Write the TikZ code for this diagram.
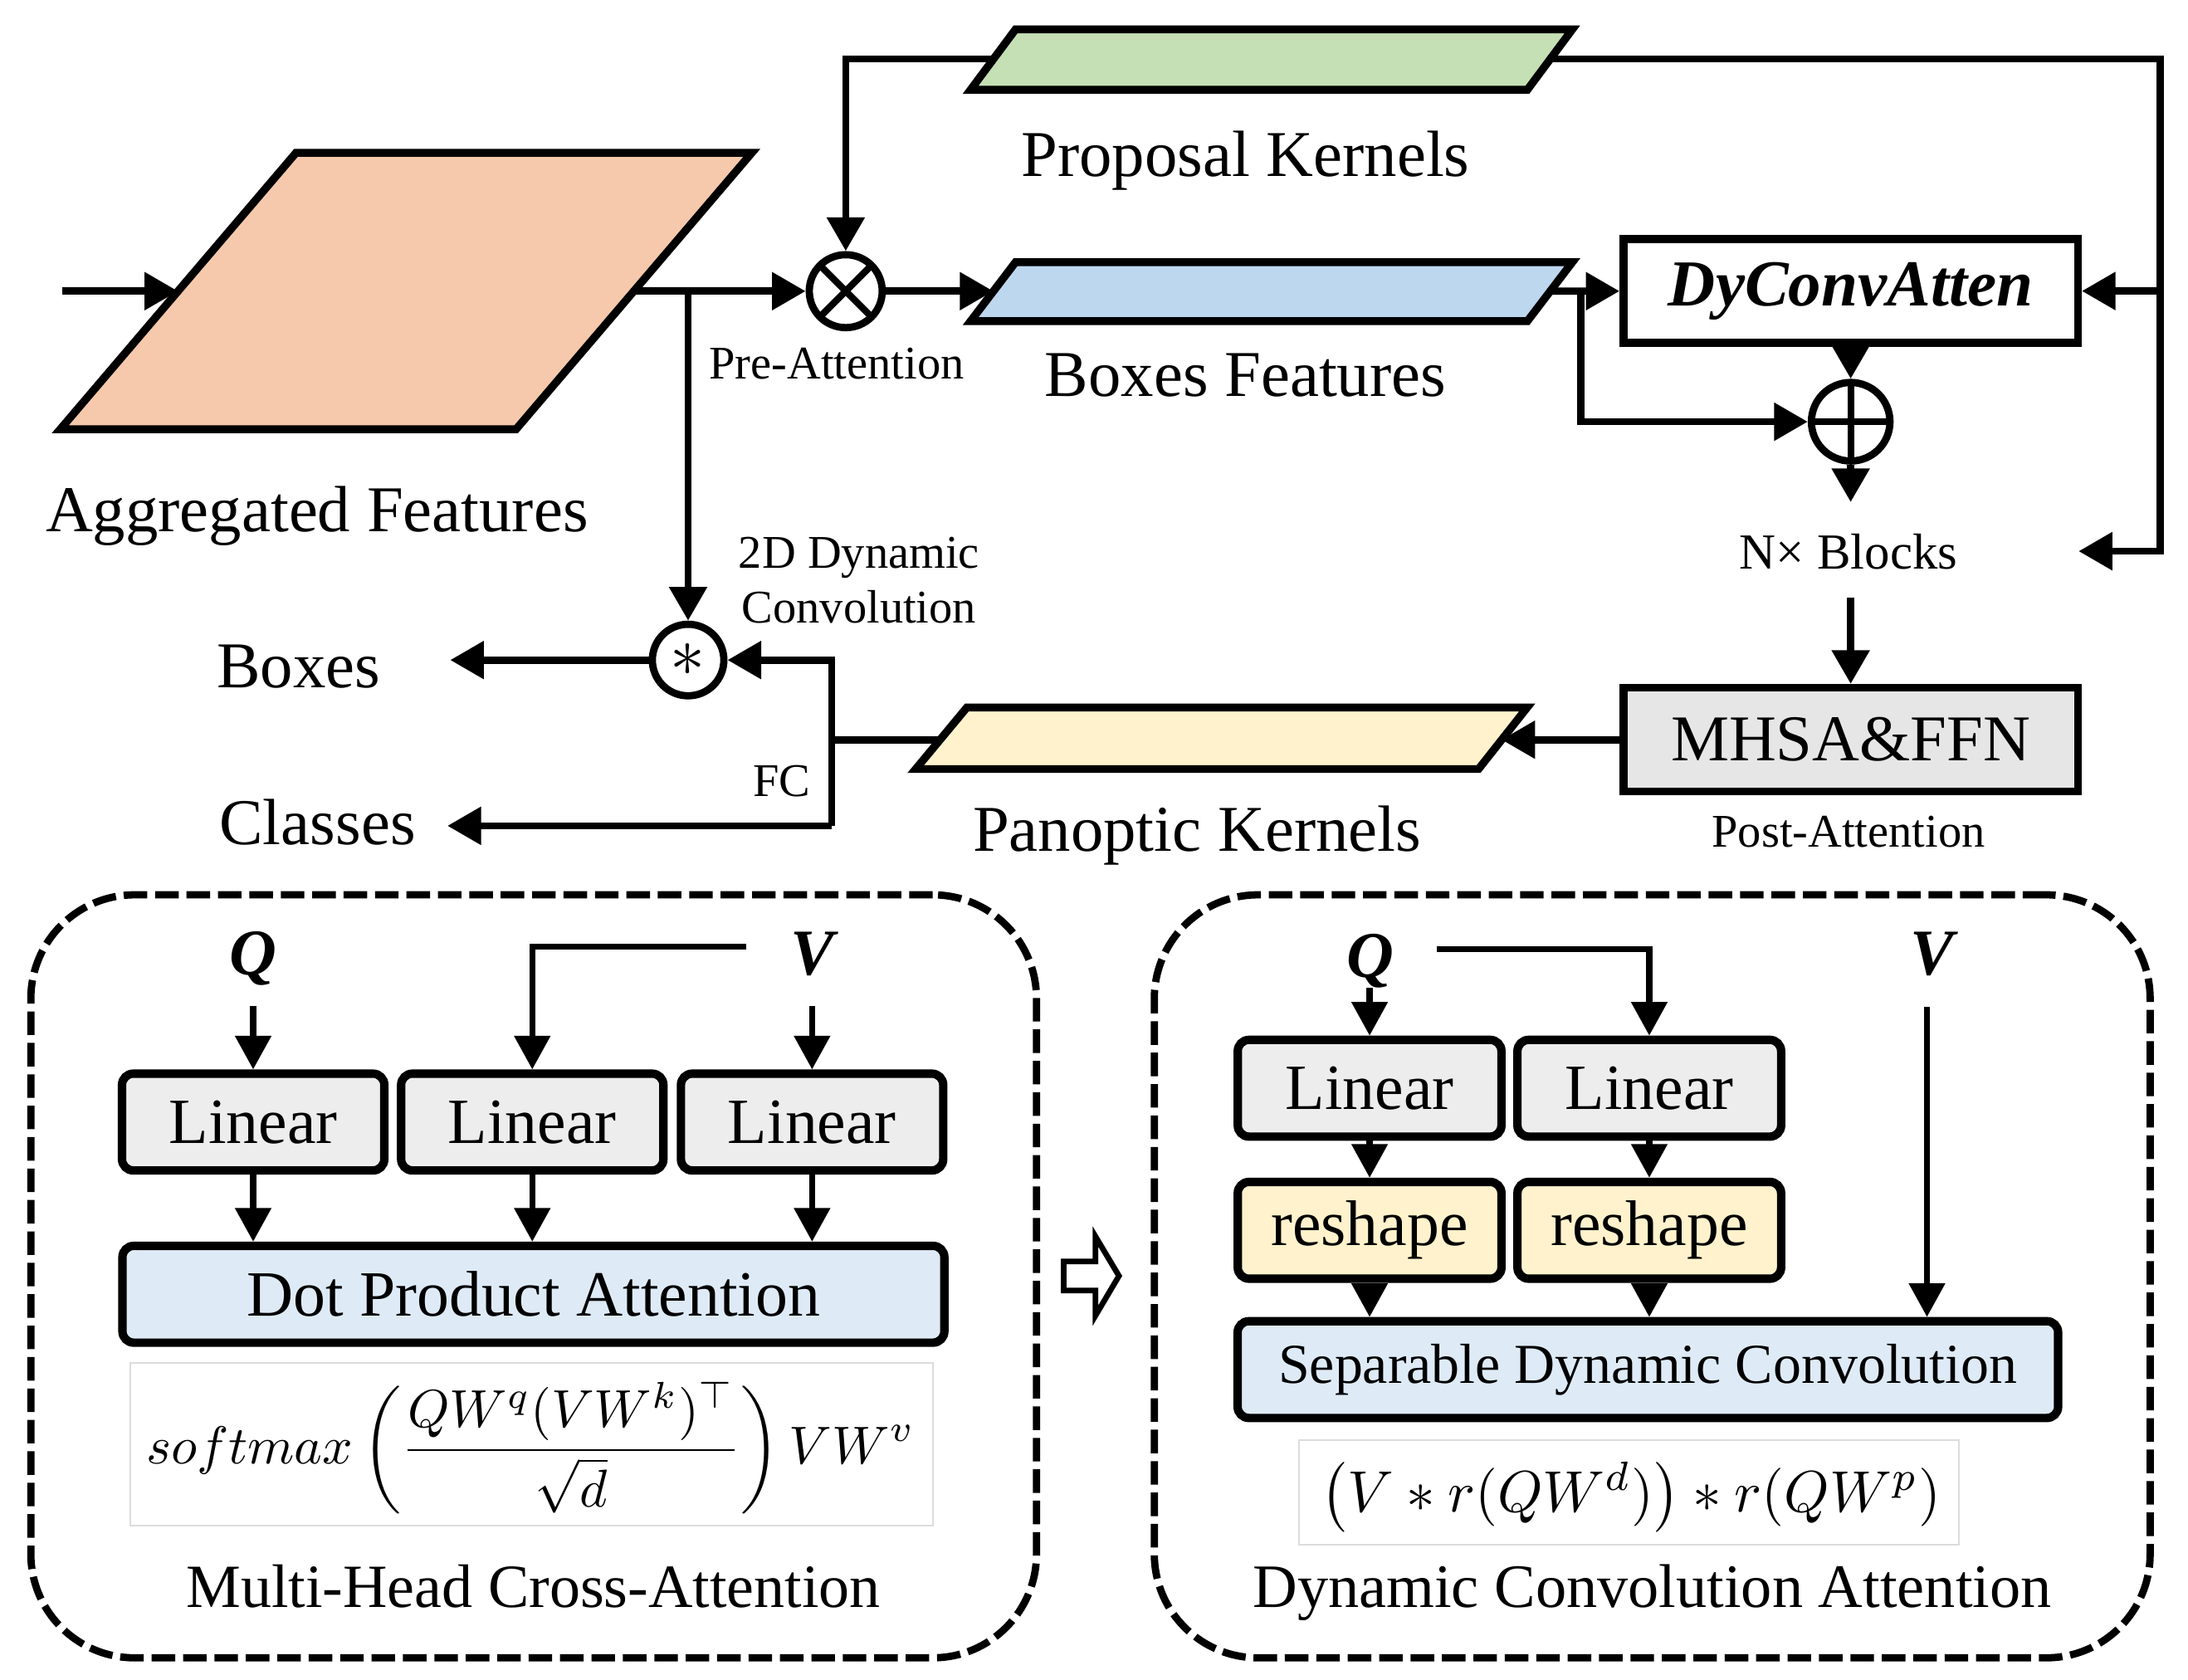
\documentclass[tikz,border=0pt]{standalone}
\usepackage[no-math]{fontspec}
\setmainfont{Liberation Serif}
\usepackage{graphicx}
\usetikzlibrary{arrows.meta}
\definecolor{cAgg}{RGB}{246,201,172}
\definecolor{cProp}{RGB}{197,224,180}
\definecolor{cBoxF}{RGB}{189,215,238}
\definecolor{cPan}{RGB}{255,242,204}
\definecolor{cGray}{RGB}{231,230,230}
\definecolor{cLin}{RGB}{237,237,237}
\definecolor{cBlue}{RGB}{222,235,247}
\definecolor{cFbox}{RGB}{220,220,220}
\tikzset{
  conn/.style={line width=2.6pt},
  arr/.style={conn,-{Triangle[length=12pt,width=13pt]}},
  larr/.style={line width=2.2pt,-{Triangle[length=12pt,width=12.5pt]}},
  pgram/.style={line width=2.8pt,line join=miter},
  big/.style={font=\fontsize{23.3}{28}\selectfont,inner sep=0pt},
  small/.style={font=\fontsize{16.7}{20}\selectfont,inner sep=0pt},
  qv/.style={font=\fontsize{23.3}{28}\selectfont\bfseries\itshape,inner sep=0pt},
  sqbox/.style={draw,line width=2.8pt,minimum width=162pt,minimum height=37pt,inner sep=0pt,font=\fontsize{23.3}{28}\selectfont},
  rbox/.style={draw,line width=3pt,rounded corners=4pt,minimum height=34.5pt,inner sep=0pt,font=\fontsize{23}{28}\selectfont},
  circ/.style={draw,circle,line width=2.6pt,inner sep=0pt,fill=white},
  dbox/.style={draw,line width=2.6pt,dash pattern=on 8.4pt off 2.8pt,rounded corners=37pt,inner sep=0pt},
  fbox/.style={draw=cFbox,line width=0.6pt,fill=white,inner sep=0pt}
}
\begin{document}
\begin{tikzpicture}[x=0.5pt,y=-0.5pt]
\useasboundingbox (0,0) rectangle (1560,1197.8);

% ---------- parallelograms ----------
\draw[pgram,fill=cAgg] (211,109) -- (536,109) -- (368,306) -- (43,306) -- cycle;
\draw[pgram,fill=cProp] (724,21) -- (1121,21) -- (1089,64) -- (692,64) -- cycle;
\draw[pgram,fill=cBoxF] (724,187) -- (1121,187) -- (1089,229) -- (692,229) -- cycle;
\draw[pgram,fill=cPan] (689.3,504.5) -- (1088.8,504.5) -- (1054.2,548.3) -- (652.9,548.3) -- cycle;

% ---------- coordinates on shapes ----------
\coordinate (inStart) at (44.5,207.6);
\coordinate (aggIn) at (127,207.6);
\coordinate (aggOut) at (452,207.6);
\coordinate (brDown) at (490.6,207.6);
\coordinate (pkL) at (708.4,42);
\coordinate (pkR) at (1105.4,42);
\coordinate (bfL) at (708.3,207.6);
\coordinate (bfR) at (1105.3,207.6);
\coordinate (bfBr) at (1127,207.6);
\coordinate (lpTop) at (1540,42);
\coordinate (lpMid) at (1540,207.5);
\coordinate (lpBot) at (1540,393);
\coordinate (nbTip) at (1482,393);
\coordinate (opTip) at (1319.5,358);
\coordinate (nbStart) at (1319.5,426);
\coordinate (panR) at (1070.5,527.4);
\coordinate (panL) at (670.1,527.4);
\coordinate (fcMid) at (593,527.4);
\coordinate (fcTop) at (593,470.6);
\coordinate (fcBot) at (593,588.8);
\coordinate (boxTip) at (321,470.6);
\coordinate (clsTip) at (319,588.8);

% ---------- nodes (top) ----------
\node[sqbox,font=\fontsize{23.4}{28}\selectfont\bfseries\itshape] (dyconv) at (1319.5,207.5) {DyConvAtten};
\node[sqbox,fill=cGray] (mhsa) at (1319.5,527.4) {MHSA\&FFN};
\node[circ,minimum size=26pt,path picture={\draw[line width=2.4pt]
  (path picture bounding box.north west) -- (path picture bounding box.south east)
  (path picture bounding box.north east) -- (path picture bounding box.south west);}] (otimes) at (603,207.6) {};
\node[circ,minimum size=28pt,path picture={\draw[line width=2.4pt]
  (path picture bounding box.north) -- (path picture bounding box.south)
  (path picture bounding box.west) -- (path picture bounding box.east);}] (oplus) at (1319.5,300.7) {};
\node[circ,minimum size=25.5pt,font=\fontsize{24}{24}\selectfont] (oast) at (490.6,470.6) {$\ast$};

% ---------- texts (top) ----------
\node[big,anchor=base] (tAgg) at (226,379.3) {Aggregated Features};
\node[big,anchor=base] (tPK) at (888,125.7) {Proposal Kernels};
\node[big,anchor=base] (tBF) at (888,282.6) {Boxes Features};
\node[small,anchor=base] (tPre) at (596.6,270) {Pre-Attention};
\node[small,anchor=base] (t2D) at (612.5,405) {2D Dynamic};
\node[small,anchor=base] (tConv) at (612.5,444.3) {Convolution};
\node[big,anchor=base] (tBoxes) at (212.8,490.6) {Boxes};
\node[big,anchor=base] (tCls) at (226.4,602) {Classes};
\node[small,anchor=base] (tFC) at (557.5,568) {FC};
\node[big,anchor=base] (tPan) at (853.5,607) {Panoptic Kernels};
\node[small,anchor=base,font=\fontsize{18}{21}\selectfont] (tNB) at (1318,405.4) {N× Blocks};
\node[small,anchor=base] (tPost) at (1318,604) {Post-Attention};

% ---------- connectors (top) ----------
\draw[arr] (inStart) -- (aggIn);
\draw[arr] (aggOut) -- (otimes);
\draw[arr] (brDown) -- (oast);
\draw[arr] (pkL) -| (otimes);
\draw[arr] (otimes) -- (bfL);
\draw[arr] (bfR) -- (dyconv);
\draw[arr] (bfBr) |- (oplus);
\draw[arr] (pkR) -- (lpTop) -- (lpBot) -- (nbTip);
\draw[arr] (lpMid) -- (dyconv);
\draw[arr] (dyconv) -- (oplus);
\draw[arr] (oplus) -- (opTip);
\draw[arr] (nbStart) -- (mhsa);
\draw[arr] (mhsa) -- (panR);
\draw[conn] (panL) -- (fcMid);
\draw[arr] (fcBot) -- (fcTop) -- (oast);
\draw[arr] (fcBot) -- (clsTip);
\draw[arr] (oast) -- (boxTip);

% ---------- lower dashed boxes ----------
\node[dbox,minimum width=358.5pt,minimum height=272pt] (mhcaBox) at (380.5,910) {};
\node[dbox,minimum width=355pt,minimum height=272pt] (dcaBox) at (1178,910) {};

% hollow arrow between boxes
\draw[line width=2pt,line join=miter] (758.4,899.4) -- (781.1,899.4) -- (781.1,881.7) -- (797.8,909.7)
  -- (781.1,937.9) -- (781.1,920.1) -- (758.4,920.1) -- cycle;

% ---------- lower left ----------
\node[qv,anchor=base] (QL) at (180.3,695) {Q};
\node[qv,anchor=base] (VL) at (579,695) {V};
\node[rbox,fill=cLin,minimum width=93.5pt] (lin1) at (180.5,800) {Linear};
\node[rbox,fill=cLin,minimum width=93.5pt] (lin2) at (379.5,800) {Linear};
\node[rbox,fill=cLin,minimum width=93.5pt] (lin3) at (579,800) {Linear};
\node[rbox,fill=cBlue,minimum width=293pt] (dot) at (380.3,922.8) {Dot Product Attention};
\node[fbox,minimum width=286pt,minimum height=58pt] (f1box) at (379,1029.8) {};
\node[inner sep=0pt] (f1) at (378.3,1032.5) {\resizebox*{274pt}{47pt}{$\displaystyle softmax\left(\frac{QW^q(VW^k)^\top}{\sqrt{d}}\right)VW^v$}};
\node[anchor=base,inner sep=0pt,font=\fontsize{21.9}{26}\selectfont] (tMH) at (380.3,1146.3) {Multi-Head Cross-Attention};

\coordinate (qlA) at (180.5,717.4);
\coordinate (vlA) at (579,717.4);
\coordinate (vlL) at (532,675);
\draw[larr] (qlA) -- (lin1);
\draw[larr] (vlA) -- (lin3);
\draw[larr] (vlL) -| (lin2);
\draw[larr] (lin1) -- (lin1 |- dot.north);
\draw[larr] (lin2) -- (lin2 |- dot.north);
\draw[larr] (lin3) -- (lin3 |- dot.north);

% ---------- lower right ----------
\node[qv,anchor=base] (QR) at (977,697) {Q};
\node[qv,anchor=base] (VR) at (1377.5,695) {V};
\node[rbox,fill=cLin,minimum width=94pt] (linR1) at (976.5,775.9) {Linear};
\node[rbox,fill=cLin,minimum width=94pt] (linR2) at (1175.9,775.9) {Linear};
\node[rbox,fill=cPan,minimum width=94pt] (resh1) at (976.5,877.2) {reshape};
\node[rbox,fill=cPan,minimum width=94pt] (resh2) at (1175.9,877.2) {reshape};
\node[rbox,fill=cBlue,minimum width=292.5pt,font=\fontsize{20.1}{24}\selectfont] (sep) at (1174.9,976.5) {Separable Dynamic Convolution};
\node[fbox,minimum width=235.5pt,minimum height=37.3pt] (f2box) at (1161.4,1064.2) {};
\node[inner sep=0pt] (f2) at (1162.8,1067.4) {\resizebox*{221pt}{25pt}{$\big(V * r(QW^d)\big) * r(QW^p)$}};
\node[anchor=base,inner sep=0pt,font=\fontsize{22}{26}\selectfont] (tDCA) at (1178,1146) {Dynamic Convolution Attention};

\coordinate (qrA) at (976.5,704.4);
\coordinate (qrL) at (1024.5,676.7);
\coordinate (vrA) at (1373.9,718);
\draw[larr] (qrA) -- (linR1);
\draw[larr] (qrL) -| (linR2);
\draw[larr] (linR1) -- (resh1);
\draw[larr] (linR2) -- (resh2);
\draw[larr] (resh1) -- (resh1 |- sep.north);
\draw[larr] (resh2) -- (resh2 |- sep.north);
\draw[larr] (vrA) -- (vrA |- sep.north);
\end{tikzpicture}
\end{document}
